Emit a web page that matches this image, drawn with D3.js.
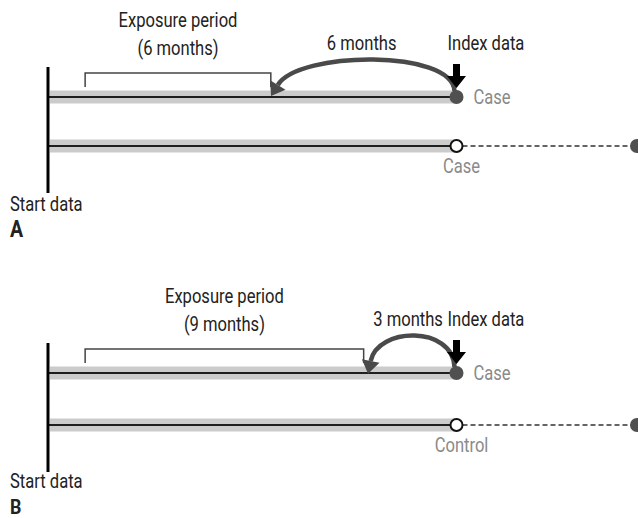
<!DOCTYPE html>
<html>
<head>
<meta charset="utf-8">
<script src="https://cdn.jsdelivr.net/npm/d3@7"></script>
<style>
  body { margin: 0; background: #fff; }
  text { font-family: Roboto, "Liberation Sans", sans-serif; }
</style>
</head>
<body>
<div id="chart"></div>
<script>
// study design data (months, relative to the index date)
const panelLabels = ["A", "B"];
const exposureMonths = [6, 9];
const lagMonths = [6, 3];
const row1Labels = ["Case", "Case"];
const row2Labels = ["Case", "Control"];
const startMonth = -13.2;   // "Start data"
const followUpMonth = 5.8;  // end of dashed follow-up

const width = 638, height = 518;

// layout of each panel (pixel rows)
const rowY = [[97, 146], [373, 425]];
const startLabelY = [211, 488];
const panelLabelY = [237, 514];
const panelLabelSize = [23, 21];

const svg = d3.select("#chart").append("svg")
    .attr("width", width)
    .attr("height", height);

let x = d3.scaleLinear()
    .domain([startMonth, followUpMonth])
    .range([48, 636]);

// condensed-looking text (no narrow font installed, so squeeze it)
function label(g, tx, ty, str, anchor, color, size, weight) {
    return g.append("text")
        .attr("transform", "translate(" + tx + "," + ty + ") scale(0.85,1)")
        .attr("text-anchor", anchor || "start")
        .attr("font-size", size || 19.5)
        .attr("font-weight", weight || "normal")
        .attr("fill", color || "#222")
        .text(str);
}

panelLabels.forEach(function(lab, i) {
    drawPanel(i);
});

function drawPanel(i) {
    let g = svg.append("g");
    let y1 = rowY[i][0], y2 = rowY[i][1];
    let x0 = x(0);

    // timelines: grey band + dark line
    [y1, y2].forEach(function(y) {
        g.append("rect")
            .attr("x", x(startMonth) + 2)
            .attr("y", y - 6.5)
            .attr("width", x0 - x(startMonth) - 2)
            .attr("height", 13)
            .attr("fill", "#cbcbcb");
        g.append("line")
            .attr("x1", x(startMonth)).attr("x2", x0)
            .attr("y1", y).attr("y2", y)
            .attr("stroke", "#1e1e1e")
            .attr("stroke-width", 2);
    });

    // start vertical line
    g.append("line")
        .attr("x1", x(startMonth)).attr("x2", x(startMonth))
        .attr("y1", y1 - 30).attr("y2", y2 + 47)
        .attr("stroke", "#000")
        .attr("stroke-width", 3);

    // follow-up dashed line for second row
    g.append("line")
        .attr("x1", x0 + 6).attr("x2", x(followUpMonth))
        .attr("y1", y2).attr("y2", y2)
        .attr("stroke", "#333")
        .attr("stroke-width", 1.6)
        .attr("stroke-dasharray", "5,3");
    g.append("circle")
        .attr("cx", x(followUpMonth) + 1).attr("cy", y2)
        .attr("r", 7)
        .attr("fill", "#505050");
    g.append("circle")
        .attr("cx", x0).attr("cy", y2)
        .attr("r", 6)
        .attr("fill", "#fff")
        .attr("stroke", "#111")
        .attr("stroke-width", 2);

    // bracket for exposure period
    let bx1 = x(-(lagMonths[i] + exposureMonths[i])), bx2 = x(-lagMonths[i]);
    g.append("path")
        .attr("d", "M" + bx1 + "," + (y1 - 10) + "V" + (y1 - 24) + "H" + bx2 + "V" + (y1 - 10))
        .attr("fill", "none")
        .attr("stroke", "#444")
        .attr("stroke-width", 1.5);

    // curved lag arrow
    let xt = bx2;
    let p0 = [x0 - 2, y1 - 6],
        p1 = [x0 - 4, y1 - 48],
        p2 = [xt + (x0 - xt) * 0.15, y1 - 46],
        p3 = [xt + 7, y1 - 12];
    g.append("path")
        .attr("d", "M" + p0 + "C" + p1 + " " + p2 + " " + p3)
        .attr("fill", "none")
        .attr("stroke", "#4a4a4a")
        .attr("stroke-width", 4.5);
    let dx = p3[0] - p2[0], dy = p3[1] - p2[1], len = Math.sqrt(dx * dx + dy * dy);
    dx /= len; dy /= len;
    let tip = [p3[0] + dx * 13, p3[1] + dy * 13];
    g.append("path")
        .attr("d", "M" + tip + "L" + [p3[0] - dy * 9, p3[1] + dx * 9] + "L" + [p3[0] + dy * 9, p3[1] - dx * 9] + "Z")
        .attr("fill", "#4a4a4a");

    // index case dot
    g.append("circle")
        .attr("cx", x0).attr("cy", y1)
        .attr("r", 7)
        .attr("fill", "#505050");

    // black index arrow
    g.append("path")
        .attr("d", "M" + (x0 - 3.5) + "," + (y1 - 33) + "H" + (x0 + 3.5) + "V" + (y1 - 21) +
            "H" + (x0 + 9.5) + "L" + x0 + "," + (y1 - 9) + "L" + (x0 - 9.5) + "," + (y1 - 21) +
            "H" + (x0 - 3.5) + "Z")
        .attr("fill", "#000");

    // texts
    let bmid = (bx1 + bx2) / 2;
    label(g, bmid, y1 - 70, "Exposure period", "middle");
    label(g, bmid, y1 - 42, "(" + exposureMonths[i] + " months)", "middle");
    label(g, (x0 + xt) / 2 - 2, y1 - 47, lagMonths[i] + " months", "middle");
    label(g, x0 - 9, y1 - 47, "Index data");
    label(g, x0 + 17, y1 + 7, row1Labels[i], "start", "#8a8a8a");
    label(g, x0 + 5, y2 + 27, row2Labels[i], "middle", "#8a8a8a");
    label(g, 10, startLabelY[i], "Start data");
    label(g, 10, panelLabelY[i], panelLabels[i], "start", "#222", panelLabelSize[i], "bold");
}
</script>
</body>
</html>
